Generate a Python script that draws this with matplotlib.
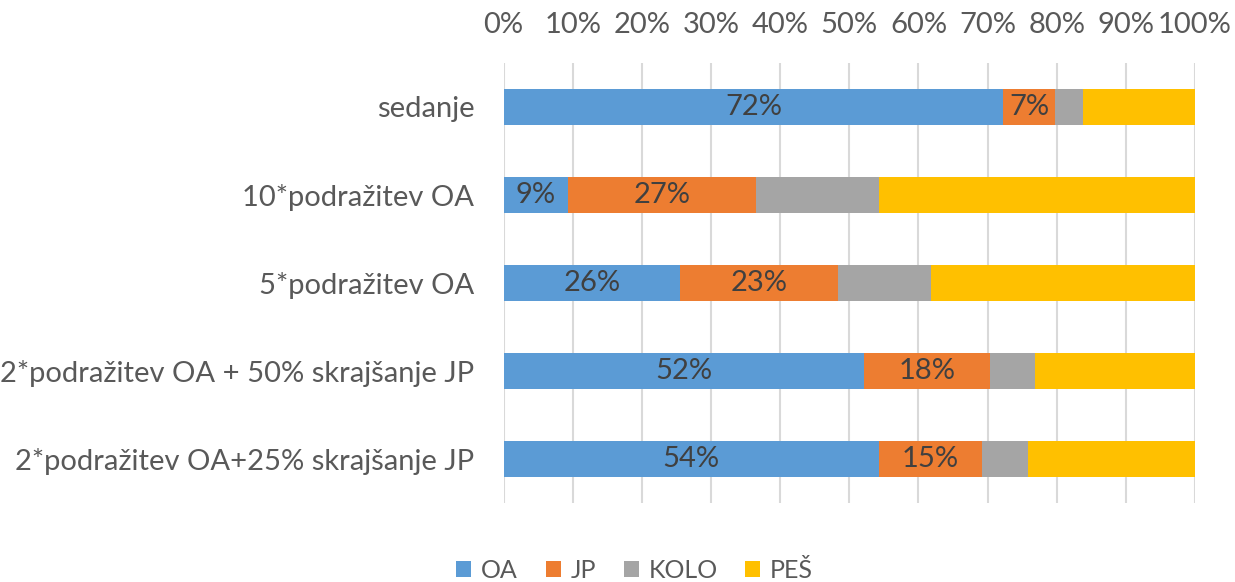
import matplotlib
matplotlib.use("Agg")
import matplotlib.pyplot as plt
import numpy as np

categories = ["sedanje", "10*podražitev OA", "5*podražitev OA",
              "2*podražitev OA + 50% skrajšanje JP", "2*podražitev OA+25% skrajšanje JP"]
series_names = ["OA", "JP", "KOLO", "PEŠ"]
oa = [72.3, 9.3, 25.5, 52.1, 54.3]
jp = [7.5, 27.2, 22.8, 18.3, 14.9]
kolo = [4.0, 17.8, 13.5, 6.4, 6.7]
pes = [16.2, 45.7, 38.2, 23.2, 24.1]
oa_labels = ["72%", "9%", "26%", "52%", "54%"]
jp_labels = ["7%", "27%", "23%", "18%", "15%"]
ticks = [0, 10, 20, 30, 40, 50, 60, 70, 80, 90, 100]
tick_labels = [f"{t}%" for t in ticks]

colors = ["#5B9BD5", "#ED7D31", "#A5A5A5", "#FFC000"]

plt.rcParams['font.family'] = ['Lato', 'DejaVu Sans']
FS = 21

fig = plt.figure(figsize=(12.35, 5.82), dpi=100)
ax = fig.add_axes([0.4078, 0.1357, 0.5598, 0.7561])

y = np.arange(len(categories))
left = np.zeros(len(categories))
data = [oa, jp, kolo, pes]
bars = []
for vals, name, c in zip(data, series_names, colors):
    b = ax.barh(y, vals, left=left, height=0.41, color=c, label=name, zorder=3)
    bars.append(b)
    left = left + np.array(vals)

for rect, lab in zip(bars[0], oa_labels):
    ax.text(rect.get_x() + rect.get_width() / 2, rect.get_y() + rect.get_height() / 2, lab,
            ha='center', va='center', fontsize=FS, color='#404040', zorder=4)
for rect, lab in zip(bars[1], jp_labels):
    ax.text(rect.get_x() + rect.get_width() / 2, rect.get_y() + rect.get_height() / 2, lab,
            ha='center', va='center', fontsize=FS, color='#404040', zorder=4)

ax.set_xlim(0, 100)
ax.set_ylim(len(categories) - 0.5, -0.5)
ax.set_yticks(y)
ax.set_yticklabels(categories, fontsize=FS, color='#595959')
ax.set_xticks(ticks)
ax.set_xticklabels(tick_labels, fontsize=FS, color='#595959')
ax.xaxis.tick_top()
ax.tick_params(axis='both', length=0)
ax.tick_params(axis='x', pad=18)
ax.tick_params(axis='y', pad=21)
ax.grid(axis='x', color='#D9D9D9', linewidth=1.5, zorder=0)
for s in ax.spines.values():
    s.set_visible(False)

leg = fig.legend(loc='center', bbox_to_anchor=(0.514, 0.02), ncol=4, frameon=False,
                 fontsize=18, handlelength=0.6, handleheight=0.6, handletextpad=0.4,
                 columnspacing=1.1)
for t in leg.get_texts():
    t.set_color('#595959')

fig.savefig("out.png", dpi=100)
